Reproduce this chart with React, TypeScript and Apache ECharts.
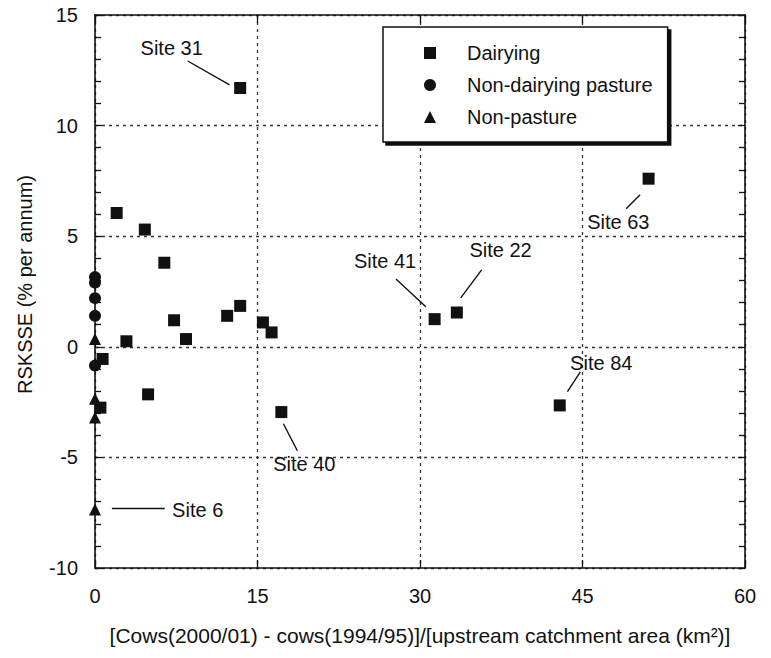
import React, { useEffect, useRef } from "react";
import * as echarts from "echarts";

// Dairying sites: [x, y]
const dairyingX = [13.4, 2.0, 4.6, 6.4, 7.3, 2.9, 8.4, 0.7, 4.9, 0.5, 12.2, 13.4, 15.5, 16.3, 17.2, 31.35, 33.4, 51.1, 42.9];
const dairyingY = [11.7, 6.05, 5.3, 3.8, 1.2, 0.25, 0.35, -0.55, -2.15, -2.75, 1.4, 1.85, 1.1, 0.65, -2.95, 1.25, 1.55, 7.6, -2.65];

const pastureX = [0, 0, 0, 0, 0];
const pastureY = [3.15, 2.9, 2.2, 1.4, -0.85];

const nonPastureX = [0, 0, 0, 0];
const nonPastureY = [0.35, -2.35, -3.2, -7.35];

// Annotations (data coordinates)
const siteNames = ["Site 31", "Site 41", "Site 22", "Site 63", "Site 84", "Site 40", "Site 6"];
const siteLabelX = [7.08, 26.77, 37.44, 48.3, 46.73, 19.32, 9.48];
const siteLabelY = [13.51, 3.89, 4.38, 5.65, -0.72, -5.29, -7.37];
const leaderFrom = [[8.56, 12.92], [27.78, 3.07], [35.69, 3.48], [50.32, 6.87], [44.8, -1.13], [17.39, -3.48], [1.56, -7.32]];
const leaderTo = [[12.42, 11.84], [30.54, 1.81], [33.76, 2.21], [49.03, 6.24], [43.61, -2.03], [18.68, -4.7], [6.44, -7.32]];

const xTicks = { min: 0, max: 60, interval: 15 };
const yTicks = { min: -10, max: 15, interval: 5 };

const seriesNames = ["Dairying", "Non-dairying pasture", "Non-pasture"];

const FONT = "'Liberation Sans', Arial, Helvetica, sans-serif";
const INK = "#111";

const zip = (xs: number[], ys: number[]) => xs.map((x, i) => [x, ys[i]]);

export default function App() {
  const ref = useRef<HTMLDivElement>(null);
  useEffect(() => {
    if (!ref.current) return;
    const chart = echarts.init(ref.current, undefined, { renderer: "svg" });
    const splitLine = { show: true, lineStyle: { color: "#333", type: [3, 4] as any, width: 1.3 } };
    const axisLine = { show: true, onZero: false, lineStyle: { color: INK, width: 1.6 } };
    const tickLabel = { fontFamily: FONT, fontSize: 20, color: INK };
    const markStyle = { color: INK, opacity: 1 };
    chart.setOption({
      animation: false,
      backgroundColor: "#fff",
      textStyle: { fontFamily: FONT },
      grid: { left: 95, top: 15, right: 26, bottom: 90, containLabel: false },
      legend: {
        data: seriesNames,
        orient: "vertical",
        left: 383,
        top: 27,
        itemWidth: 12,
        itemHeight: 12,
        itemGap: 12,
        padding: [16, 15, 15, 41],
        backgroundColor: "#fff",
        borderColor: INK,
        borderWidth: 1.5,
        borderRadius: 0,
        shadowColor: "#111",
        shadowBlur: 0,
        shadowOffsetX: 3,
        shadowOffsetY: 3,
        itemStyle: { opacity: 1 },
        textStyle: { fontFamily: FONT, fontSize: 20, color: INK, padding: [0, 0, 0, 26] },
        selectedMode: false,
        z: 10,
      },
      xAxis: [
        {
          type: "value",
          position: "bottom",
          ...xTicks,
          axisLine,
          axisTick: { show: true, inside: true, length: 8, lineStyle: { color: INK, width: 1.3 } },
          axisLabel: { ...tickLabel, margin: 18 },
          splitLine,
          name: "[Cows(2000/01) - cows(1994/95)]/[upstream catchment area (km²)]",
          nameLocation: "middle",
          nameGap: 57,
          nameTextStyle: { fontFamily: FONT, fontSize: 21, color: INK },
        },
        {
          type: "value",
          position: "top",
          ...xTicks,
          axisLine,
          axisTick: { show: true, inside: true, length: 8, lineStyle: { color: INK, width: 1.3 } },
          axisLabel: { show: false },
          splitLine: { show: false },
        },
      ],
      yAxis: [
        {
          type: "value",
          position: "left",
          ...yTicks,
          axisLine,
          axisTick: { show: true, inside: true, length: 7, lineStyle: { color: INK, width: 1.3 } },
          minorTick: { show: true, splitNumber: 5, length: 6, lineStyle: { color: INK, width: 1.3 } },
          axisLabel: { ...tickLabel, margin: 17 },
          splitLine,
          name: "RSKSSE (% per annum)",
          nameLocation: "middle",
          nameGap: 60,
          nameTextStyle: { fontFamily: FONT, fontSize: 20, color: INK, padding: [0, 0, 0, 14] },
        },
        {
          type: "value",
          position: "right",
          ...yTicks,
          axisLine,
          axisTick: { show: true, inside: true, length: 7, lineStyle: { color: INK, width: 1.3 } },
          minorTick: { show: true, splitNumber: 5, length: 6, lineStyle: { color: INK, width: 1.3 } },
          axisLabel: { show: false },
          splitLine: { show: false },
        },
      ],
      series: [
        {
          name: seriesNames[0],
          type: "scatter",
          symbol: "rect",
          symbolSize: 12,
          itemStyle: markStyle,
          data: zip(dairyingX, dairyingY),
          z: 5,
        },
        {
          name: seriesNames[1],
          type: "scatter",
          symbol: "circle",
          symbolSize: 12,
          itemStyle: markStyle,
          data: zip(pastureX, pastureY),
          z: 5,
        },
        {
          name: seriesNames[2],
          type: "scatter",
          symbol: "triangle",
          symbolSize: 12,
          itemStyle: markStyle,
          data: zip(nonPastureX, nonPastureY),
          z: 5,
        },
        {
          name: "leaders",
          type: "lines",
          coordinateSystem: "cartesian2d",
          xAxisIndex: 0,
          yAxisIndex: 0,
          lineStyle: { color: INK, width: 1.4, opacity: 1, curveness: 0 },
          data: leaderFrom.map((f, i) => ({ coords: [f, leaderTo[i]] })),
          silent: true,
          z: 4,
        },
        {
          name: "labels",
          type: "scatter",
          symbolSize: 1,
          itemStyle: { color: "#fff", opacity: 0 },
          label: {
            show: true,
            position: "inside",
            formatter: (p: any) => p.name,
            fontFamily: FONT,
            fontSize: 20,
            color: INK,
            opacity: 1,
            textBorderWidth: 0,
          },
          emphasis: { disabled: true },
          data: siteNames.map((n, i) => ({ name: n, value: [siteLabelX[i], siteLabelY[i]] })),
          silent: true,
          z: 6,
        },
      ],
    });
    return () => chart.dispose();
  }, []);
  return (
    <div
      ref={ref}
      style={{ position: "fixed", left: 0, top: 0, width: 771, height: 658, background: "#fff" }}
    />
  );
}
